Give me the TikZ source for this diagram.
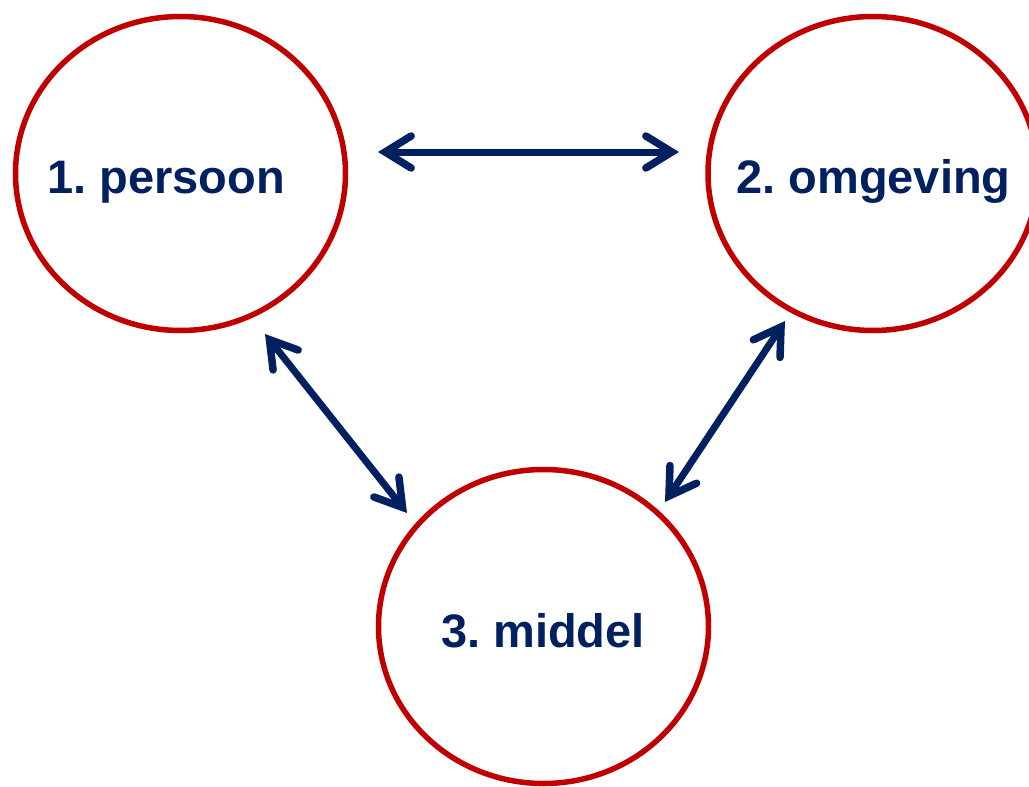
\documentclass[tikz,border=0pt]{standalone}
\usepackage{fontspec}
\setmainfont{Liberation Sans}
\usetikzlibrary{shapes.geometric,arrows.meta}
\definecolor{ringred}{HTML}{C00000}
\definecolor{navy}{HTML}{002060}
\frenchspacing
\begin{document}
\begin{tikzpicture}[x=1pt,y=-1pt,
  ring/.style={draw=ringred,line width=5.5pt,ellipse,minimum width=330pt,minimum height=314pt,inner sep=0pt},
  lbl/.style={text=navy,font=\fontsize{47}{56}\selectfont\bfseries,inner sep=0pt,anchor=base},
  barb/.tip={Straight Barb[length=26pt,width=32pt,line cap=round,line width=7.5pt]},
  link/.style={draw=navy,line width=7pt,{barb}-{barb}}]
\useasboundingbox (0,0) rectangle (1029,787);
\node[ring] (c1) at (180.5,173.5) {};
\node[ring] (c2) at (873,173.5) {};
\node[ring] (c3) at (543.5,626.5) {};
\node[lbl] (t1) at (166,193) {1. persoon};
\node[lbl] (t2) at (873.5,193) {2. omgeving};
\node[lbl] (t3) at (543,647) {3. middel};
\coordinate (a1) at (378,152);
\coordinate (b1) at (679,152);
\coordinate (a2) at (265,334);
\coordinate (b2) at (407,513);
\coordinate (a3) at (785,321);
\coordinate (b3) at (665,502);
\draw[link] (a1) -- (b1);
\draw[link] (a2) -- (b2);
\draw[link] (a3) -- (b3);
\end{tikzpicture}
\end{document}
